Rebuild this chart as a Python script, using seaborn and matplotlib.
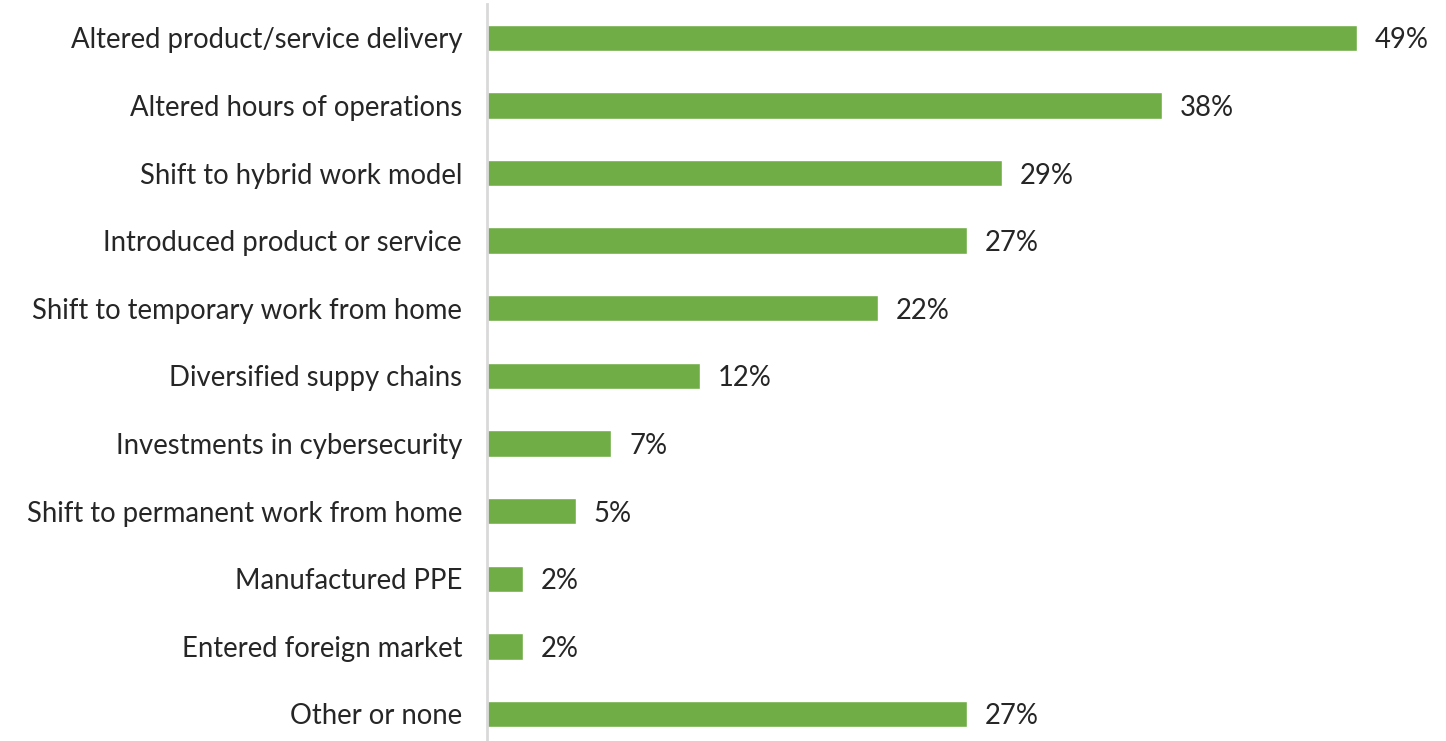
import matplotlib
matplotlib.use("Agg")
import matplotlib.pyplot as plt
import seaborn as sns
import pandas as pd

categories = [
    "Altered product/service delivery",
    "Altered hours of operations",
    "Shift to hybrid work model",
    "Introduced product or service",
    "Shift to temporary work from home",
    "Diversified suppy chains",
    "Investments in cybersecurity",
    "Shift to permanent work from home",
    "Manufactured PPE",
    "Entered foreign market",
    "Other or none",
]
values = [49, 38, 29, 27, 22, 12, 7, 5, 2, 2, 27]

df = pd.DataFrame({"category": categories, "value": values})

sns.set_theme(style="white")
plt.rcParams["font.family"] = ["Lato", "DejaVu Sans"]

fig = plt.figure(figsize=(14.46, 7.41), dpi=100)
ax = fig.add_axes([487 / 1446, 0.0, 1 - 487 / 1446, 1 - 4 / 741])

sns.barplot(data=df, x="value", y="category", color="#70AD47",
            saturation=1, width=0.39, ax=ax, orient="h")

ax.set_xlim(0, 54.0)
ax.set_ylim(10.40, -0.5)
ax.set_xlabel("")
ax.set_ylabel("")
ax.set_xticks([])

text_color = "#262626"
ax.tick_params(axis="y", length=0, pad=18, labelsize=19.8, labelcolor=text_color)
for lbl in ax.get_yticklabels():
    lbl.set_verticalalignment("center_baseline")

for s in ["top", "right", "bottom"]:
    ax.spines[s].set_visible(False)
ax.spines["left"].set_color("#D9D9D9")
ax.spines["left"].set_linewidth(2)

for i, v in enumerate(values):
    ax.text(v + 1.0, i, f"{v}%", va="center_baseline", ha="left",
            fontsize=19.8, color=text_color)

fig.savefig("out.png", dpi=100)
